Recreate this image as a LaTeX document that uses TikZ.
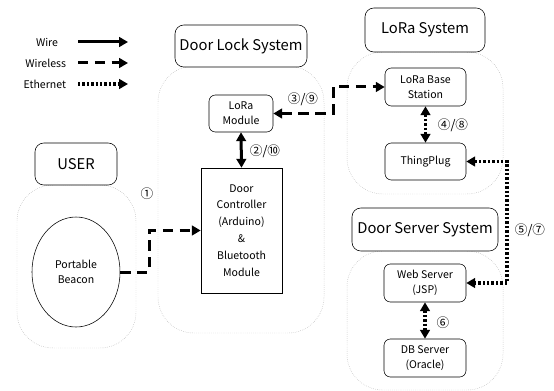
\documentclass[tikz,border=0pt]{standalone}
\usepackage{fontspec}
\setmainfont{Noto Sans CJK KR}
\usepackage{xcolor}
\usepackage{tikz}
\usetikzlibrary{arrows.meta,shapes.geometric}
\definecolor{GroupLine}{HTML}{A8A8A8}

\tikzset{
  sz/.style 2 args={minimum width=#1*0.25mm,minimum height=#2*0.25mm},
  title/.style={draw,rounded corners=2.2mm,inner sep=0pt,fill=white,font=\fontsize{10.5}{12}\selectfont},
  group/.style={draw=GroupLine,densely dotted,line width=0.35pt,rounded corners=9mm,inner sep=0pt},
  unit/.style={draw,rounded corners=1.6mm,inner sep=0pt,align=center,font=\fontsize{7.5}{10.5}\selectfont},
  tag/.style={font=\fontsize{9}{10}\selectfont},
  legend/.style={anchor=east,font=\fontsize{7.5}{9}\selectfont},
  tip/.style={-{Triangle[length=2.2mm,width=2.4mm]}},
  both/.style={{Triangle[length=2.2mm,width=2.4mm]}-{Triangle[length=2.2mm,width=2.4mm]}},
  wire/.style={line width=0.75mm,tip},
  wless/.style={line width=0.75mm,dash pattern=on 2.6mm off 1.6mm,tip},
  ether/.style={line width=0.8mm,dash pattern=on 0.6mm off 0.5mm,tip}
}

\begin{document}
\begin{tikzpicture}[x=0.25mm,y=-0.25mm]
\path[use as bounding box] (0,0) rectangle (554,391);
% legend
\node[legend] (lwire) at (63,42) {Wire};
\node[legend] (lwless) at (71,63) {Wireless};
\node[legend] (lether) at (71,84) {Ethernet};
\coordinate (kwire) at (128,42);
\coordinate (kwless) at (128,63);
\coordinate (kether) at (128,84);
\draw[wire] (78,42) -- (kwire);
\draw[wless] (78,63) -- (kwless);
\draw[ether] (78,84) -- (kether);
% groups
\node[group,sz={119}{163}] (usergrp) at (76.5,266.5) {};
\node[title,sz={82}{42}] (user) at (76,164) {USER};
\node[group,sz={166}{267}] (lockgrp) at (241,199.5) {};
\node[title,sz={132}{42}] (lock) at (241,46) {Door Lock System};
\node[group,sz={156}{142}] (lorgrp) at (425,123) {};
\node[title,sz={120}{44}] (lora) at (425,30) {LoRa System};
\node[group,sz={156}{139}] (srvgrp) at (425,320.5) {};
\node[title,sz={146}{43}] (srv) at (425,229.5) {Door Server System};
% units
\node[draw,ellipse,inner sep=0pt,sz={88}{110},align=center,font=\fontsize{7.5}{10.5}\selectfont] (beacon) at (76,272) {Portable\\Beacon};
\node[unit,sz={64}{37}] (lmod) at (241,113.5) {LoRa\\Module};
\node[unit,rounded corners=0pt,sz={81}{125},font=\fontsize{7.5}{12}\selectfont] (door) at (241.5,230.5) {Door\\Controller\\(Arduino)\\\&\\Bluetooth\\Module};
\node[unit,sz={81}{38}] (lbs) at (425.5,87) {LoRa Base\\Station};
\node[unit,sz={81}{37}] (tplug) at (425.5,161.5) {ThingPlug};
\node[unit,sz={82}{38}] (web) at (425,283) {Web Server\\(JSP)};
\node[unit,sz={82}{38}] (db) at (425,358) {DB Server\\(Oracle)};
% links
\coordinate (j1) at (149,250);
\coordinate (j39) at (333,100);
\coordinate (j57) at (507,220);
\draw[wless] (beacon.east) -| (j1) |- (door.west);
\draw[wless,both] (lmod.east) -| (j39) |- (lbs.west);
\draw[wire,both] (lmod.south) -- (door.north);
\draw[ether,both] (lbs.south) -- (tplug.north);
\draw[ether,both] (tplug.east) -| (j57) |- (web.east);
\draw[ether,both] (web.south) -- (db.north);
% step numbers
\node[tag] (t1) at (147,194) {①};
\node[tag] (t2) at (265,151) {②/⑩};
\node[tag] (t3) at (303,99) {③/⑨};
\node[tag] (t4) at (453,125) {④/⑧};
\node[tag] (t5) at (530,230) {⑤/⑦};
\node[tag] (t6) at (443,323) {⑥};
\end{tikzpicture}
\end{document}
